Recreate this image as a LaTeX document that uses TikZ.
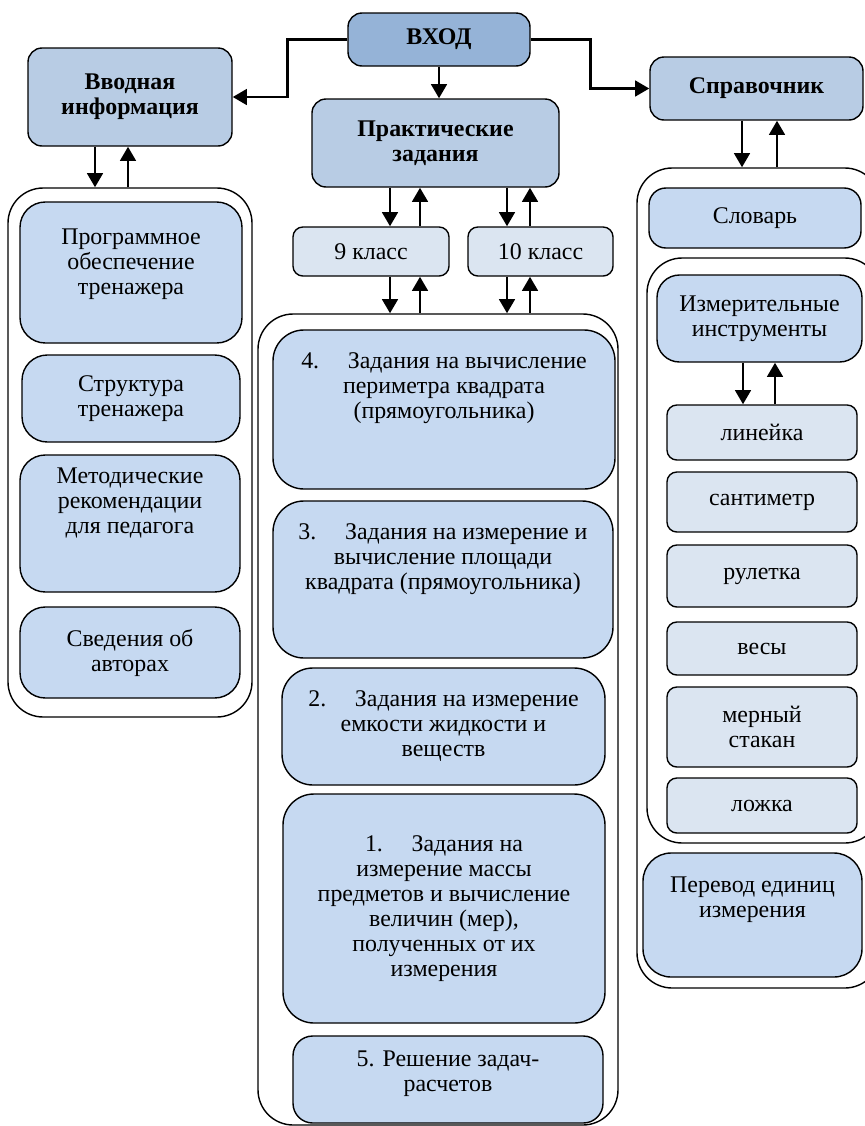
\documentclass[tikz,border=0pt]{standalone}
\usepackage{fontspec}
\setmainfont{Liberation Serif}
\usetikzlibrary{arrows.meta}
\definecolor{vhodfill}{HTML}{95B3D7}
\definecolor{headfill}{HTML}{B8CCE4}
\definecolor{itemfill}{HTML}{C6D9F1}
\definecolor{lightfill}{HTML}{DBE5F1}
\begin{document}
\begin{tikzpicture}[x=0.025cm,y=-0.025cm,font=\fontsize{17}{17.8}\selectfont]
	\tikzset{
		box/.style={draw,line width=1pt,rounded corners=10pt,align=center,inner sep=0pt},
		sz/.style 2 args={minimum width=#1*0.025cm,minimum height=#2*0.025cm},
		head/.style={box,fill=headfill,font=\fontsize{17}{17.8}\selectfont\bfseries},
		item/.style={box,fill=itemfill},
		small/.style={box,fill=lightfill,rounded corners=7pt},
		cont/.style={draw,line width=1pt,rounded corners=25pt,inner sep=0pt},
		up/.style={text depth=#1},
		arr/.style={line width=2pt,-{Triangle[width=11pt,length=10pt]}}
	}
	\useasboundingbox (0,0) rectangle (865,1126);
	% top row
	\node[head,fill=vhodfill,sz={182}{53}] (vhod) at (439,39.5) {ВХОД};
	\node[head,sz={204}{98}] (vvod) at (130,97) {Вводная\\информация};
	\node[head,sz={247}{88}] (prakt) at (435.5,143) {Практические\\задания};
	\node[head,sz={213}{63}] (sprav) at (756.5,88.5) {Справочник};
	% containers
	\node[cont,sz={244}{529}] (leftc) at (130,452.5) {};
	\node[cont,sz={360}{811}] (midc) at (438,719.5) {};
	\node[cont,sz={243}{820}] (sprc) at (758.5,578) {};
	\node[cont,sz={233}{585}] (instc) at (763.5,550.5) {};
	% left column
	\node[item,rounded corners=18pt,sz={222}{141},up=16pt] (prog) at (131,272.5) {Программное\\обеспечение\\тренажера};
	\node[item,rounded corners=18pt,sz={218}{87}] (struct) at (131,398.5) {Структура\\тренажера};
	\node[item,rounded corners=18pt,sz={220}{137},up=32pt] (metod) at (130,523.5) {Методические\\рекомендации\\для педагога};
	\node[item,rounded corners=18pt,sz={220}{91}] (sved) at (130,652.5) {Сведения об\\авторах};
	% middle column
	\node[small,sz={156}{49}] (kl9) at (371,251.5) {9 класс};
	\node[small,sz={145}{49}] (kl10) at (540.5,251.5) {10 класс};
	\node[item,rounded corners=22pt,sz={342}{159},up=34pt] (z4) at (444,409.5) {4.\hspace{1.2em}Задания на вычисление\\периметра квадрата\\(прямоугольника)};
	\node[item,rounded corners=22pt,sz={340}{157},up=32pt] (z3) at (443,579.5) {3.\hspace{1.2em}Задания на измерение и\\вычисление площади\\квадрата (прямоугольника)};
	\node[item,rounded corners=22pt,sz={323}{117}] (z2) at (443.5,726.5) {2.\hspace{1.2em}Задания на измерение\\емкости жидкости и\\веществ};
	\node[item,rounded corners=22pt,sz={322}{229}] (z1) at (444,908.5) {1.\hspace{1.2em}Задания на\\измерение массы\\предметов и вычисление\\величин (мер),\\полученных от их\\измерения};
	\node[item,rounded corners=14pt,sz={310}{87},up=12pt] (z5) at (448,1079.5) {5. Решение задач-\\расчетов};
	% right column
	\node[item,rounded corners=12pt,sz={212}{60}] (slov) at (755,218) {Словарь};
	\node[item,rounded corners=16pt,sz={205}{87}] (izm) at (759.5,318.5) {Измерительные\\инструменты};
	\node[small,sz={190}{55}] (lin) at (762,432.5) {линейка};
	\node[small,sz={190}{60}] (sant) at (762,502) {сантиметр};
	\node[small,sz={190}{62}] (rul) at (762,576) {рулетка};
	\node[small,sz={190}{53}] (ves) at (762,648.5) {весы};
	\node[small,sz={190}{80}] (mer) at (762,727) {мерный\\стакан};
	\node[small,sz={190}{55}] (lozh) at (762,805.5) {ложка};
	\node[item,rounded corners=20pt,sz={219}{124},up=26pt] (perev) at (752.5,915) {Перевод единиц\\измерения};
	% arrows from the entry
	\draw[arr] (vhod.west) -- ++(-60,0) |- (vvod.east);
	\draw[arr] (vhod.east) -- ++(60,0) |- (sprav.west);
	\draw[arr] (vhod.south) -- (vhod.south |- prakt.north);
	% pairs of arrows down and up
	\foreach \hi/\lo/\a/\b in {vvod/leftc/95/128,prakt/kl9/390/420,prakt/kl10/507/530,
		kl9/midc/390/420,kl10/midc/507/530,sprav/sprc/742/777,izm/lin/743/775}{
		\coordinate (dn) at (\a,0);
		\coordinate (upw) at (\b,0);
		\draw[arr] (\hi.south -| dn) -- (\lo.north -| dn);
		\draw[arr] (\lo.north -| upw) -- (\hi.south -| upw);
	}
\end{tikzpicture}
\end{document}
